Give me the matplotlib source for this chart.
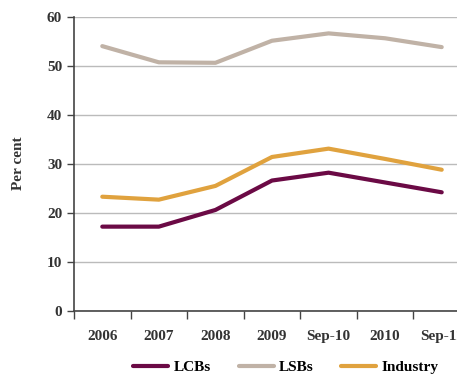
import matplotlib
matplotlib.use('Agg')
import matplotlib.pyplot as plt
import numpy as np

categories = ['2006', '2007', '2008', '2009', 'Sep-10', '2010', 'Sep-11']
lcbs = [17.2, 17.2, 20.6, 26.6, 28.2, 26.2, 24.2]
lsbs = [54.0, 50.7, 50.6, 55.1, 56.6, 55.6, 53.8]
industry = [23.3, 22.7, 25.5, 31.4, 33.1, 31.0, 28.8]

plt.rcParams['font.family'] = ['Liberation Serif', 'DejaVu Serif']
plt.rcParams['font.weight'] = 'bold'

fig = plt.figure(figsize=(4.57, 3.76), dpi=100)
ax = fig.add_axes([74 / 457, 65 / 376, 396 / 457, 294.3 / 376])

x = np.arange(len(categories))
ax.plot(x, lcbs, color='#6b0a45', lw=3, label='LCBs', solid_capstyle='round')
ax.plot(x, lsbs, color='#c0b2a6', lw=3, label='LSBs', solid_capstyle='round')
ax.plot(x, industry, color='#e0a23e', lw=3, label='Industry', solid_capstyle='round')

ax.set_xlim(-0.5, len(categories) - 0.5)
ax.set_ylim(0, 60)
ax.set_yticks(range(0, 61, 10))
ax.set_xticks(x)
ax.set_xticklabels(categories, fontsize=11, fontweight='bold', color='#333333')
ax.set_xticks(np.arange(-0.5, len(categories), 1), minor=True)
ax.tick_params(axis='x', which='major', length=0, pad=14)
ax.tick_params(axis='x', which='minor', length=6, width=1, color='#444444')
ax.tick_params(axis='y', length=5, width=1, color='#444444', labelsize=11, labelcolor='#333333')
for lab in ax.get_yticklabels():
    lab.set_fontweight('bold')

ax.grid(axis='y', color='#bbbbbb', lw=1)
ax.set_axisbelow(True)
for s in ['top', 'right']:
    ax.spines[s].set_visible(False)
for s in ['left', 'bottom']:
    ax.spines[s].set_color('#444444')
    ax.spines[s].set_linewidth(1.2)

fig.text(18 / 457, 1 - 163 / 376, 'Per cent', rotation=90, ha='center', va='center',
         fontsize=11, fontweight='bold', color='#333333')

fig.legend(loc='center', bbox_to_anchor=(286 / 457, 9 / 376), ncol=3, frameon=False,
           fontsize=11, handlelength=2.3, columnspacing=1.8, handletextpad=0.35,
           borderpad=0, borderaxespad=0)

fig.savefig('out.png', dpi=100)
